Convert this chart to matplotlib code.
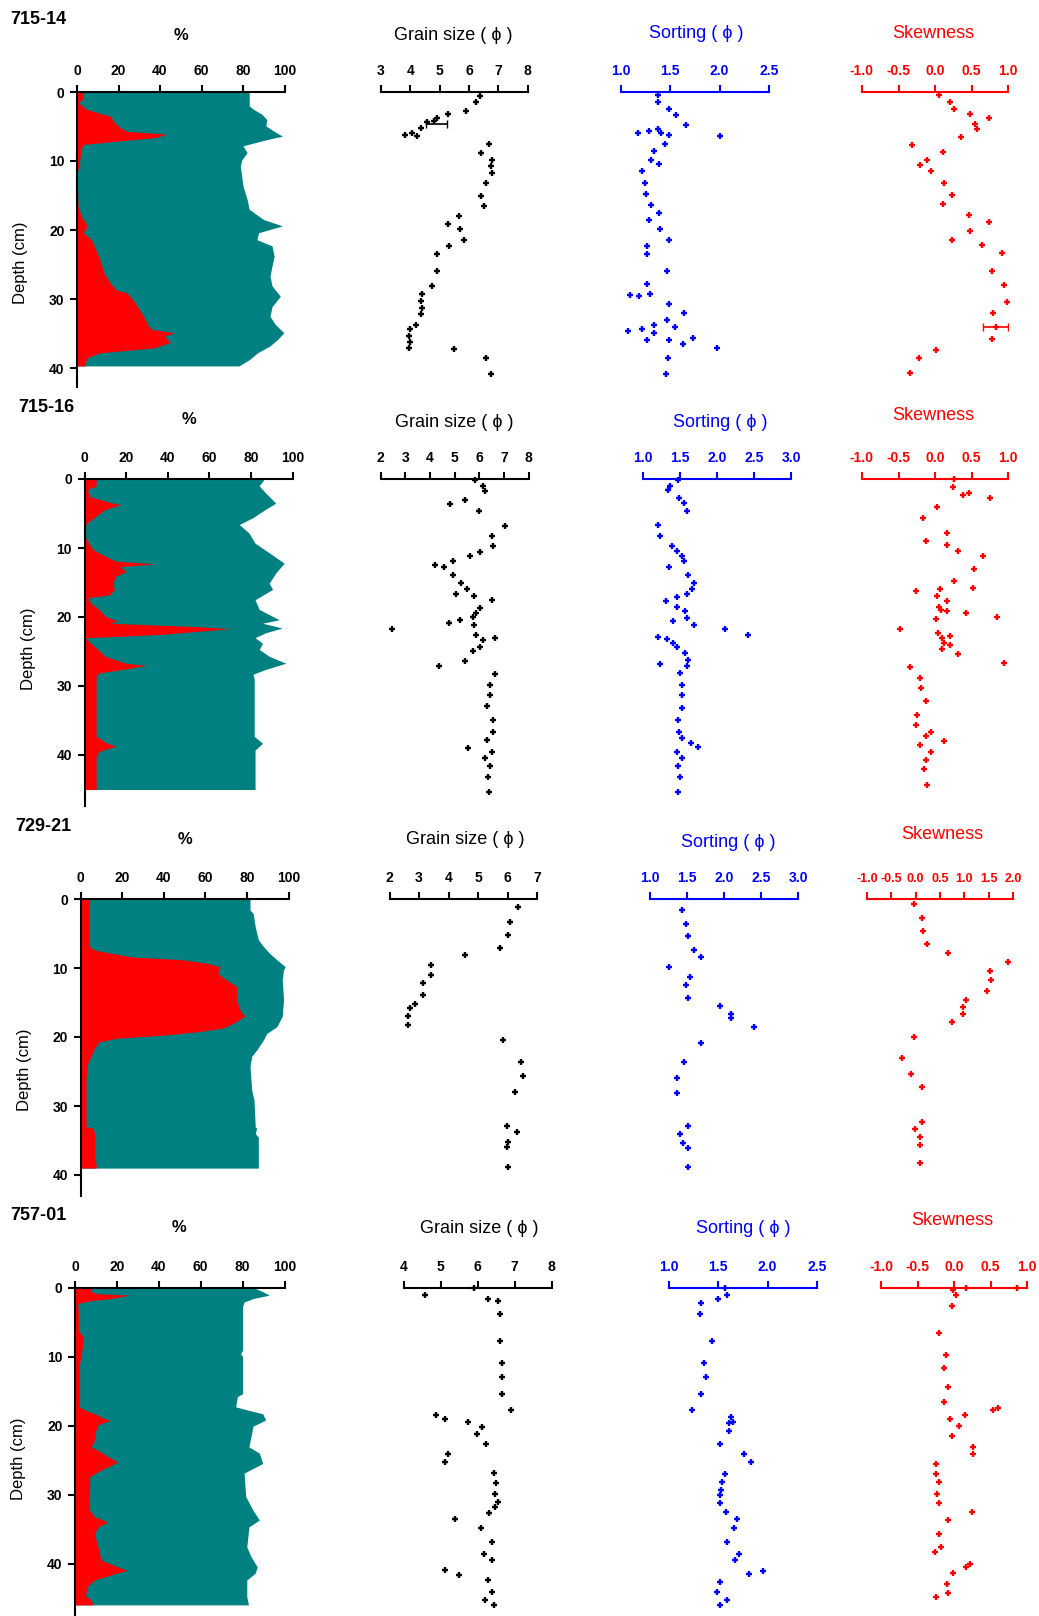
"""
Sediment core profiles: sand/silt percentages plus grain size, sorting and skewness with depth
"""
import matplotlib
matplotlib.use("Agg")
import matplotlib.pyplot as plt

# ---------------- data ----------------
core_names = ["715-14", "715-16", "729-21", "757-01"]

# core 715-14
sand_depth_1 = [0, 1, 1.5, 2.5, 3.5, 4.4, 5.2, 5.7, 6.1, 6.6, 7.1, 7.6, 8.3, 9.9, 11.2, 11.7, 16.5, 18, 19.4, 20.4,
                21.4, 22.8, 24.3, 26.2, 27.7, 28.7, 29.1, 30.1, 31.5, 33, 33.7, 34.4, 34.9, 35.4, 36.3, 37.1, 37.8,
                38.5, 39.2, 39.7]
sand_1 = [3, 3, 0.5, 4.5, 16, 18, 21, 24, 43, 38, 20, 3, 2, 1.3, 0.5, 0, 0.5, 2, 5, 3,
          7, 9, 11, 13, 16, 19, 24, 27, 30, 33, 34, 36, 47, 42, 45, 37, 11, 5, 4, 4]
total_depth_1 = [0, 2, 2.5, 3.2, 4, 4.9, 5.7, 6.4, 6.9, 7.8, 8.8, 9.8, 10.7, 13.6, 15.6, 17, 18.5, 19.4, 20.4, 21.4,
                 22.3, 23.8, 25.2, 26.7, 28.1, 29.6, 31.1, 32.5, 33.7, 34.9, 35.9, 36.8, 37.8, 38.8, 39.7]
total_1 = [83, 83, 85, 89, 91.5, 91, 95, 99, 91.5, 80, 82, 79.5, 78.7, 80, 82, 83, 90, 99, 87.5, 86.7,
           94, 95, 94, 93, 94, 98, 94, 93, 95.6, 99.7, 96.5, 93, 87, 83, 78]
grain_depth_1 = [0.6, 1.5, 2.75, 3.2, 3.7, 4.2, 4.4, 5.2, 5.9, 6.3, 6.4, 7.6, 8.8, 9.8, 10.7, 11.7, 13.2, 15.1, 16.5,
                 18, 19.2, 19.9, 21.4, 22.3, 23.5, 25.9, 28.1, 29.3, 30.3, 31.3, 32.2, 33.7, 34.4, 35.4, 36.3, 37.1,
                 37.3, 38.5, 40.9]
grain_1 = [6.38, 6.23, 5.89, 5.28, 4.92, 4.80, 4.58, 4.35, 4.06, 3.83, 4.23, 6.69, 6.40, 6.80, 6.74, 6.80, 6.57, 6.40,
           6.52, 5.66, 5.28, 5.69, 5.83, 5.32, 4.92, 4.92, 4.75, 4.40, 4.35, 4.40, 4.35, 4.18, 4.00, 3.95, 4.00, 3.95,
           5.49, 6.57, 6.74]
sort_depth_1 = [0.4, 1.4, 2.4, 3.3, 4.8, 5.7, 5.9, 5.3, 6.0, 6.2, 6.4, 7.5, 8.6, 9.8, 10.4, 11.4, 13.2, 14.8, 16.4,
                17.6, 18.6, 19.9, 21.4, 22.3, 23.5, 25.9, 27.8, 29.4, 29.6, 29.3, 30.7, 32.1, 33.1, 34.1, 34.6, 34.3,
                33.8, 34.9, 35.9, 36.0, 36.5, 35.7, 37.1, 38.6, 40.8]
sort_1 = [1.38, 1.38, 1.49, 1.56, 1.66, 1.29, 1.18, 1.38, 1.41, 1.49, 2.0, 1.45, 1.34, 1.31, 1.39, 1.22, 1.25, 1.26,
          1.31, 1.39, 1.29, 1.40, 1.49, 1.27, 1.27, 1.47, 1.27, 1.10, 1.19, 1.30, 1.49, 1.64, 1.47, 1.55, 1.08, 1.22,
          1.34, 1.34, 1.27, 1.49, 1.63, 1.73, 1.97, 1.48, 1.46]
skew_depth_1 = [0.4, 1.4, 2.5, 3.2, 3.8, 4.6, 5.3, 6.5, 7.7, 8.7, 9.8, 10.6, 11.5, 13.2, 14.9, 16.2, 17.8, 18.9, 20.1,
                21.4, 22.2, 23.4, 25.9, 28.0, 30.5, 32.1, 34.0, 35.8, 37.4, 38.6, 40.7]
skew_1 = [0.05, 0.21, 0.26, 0.48, 0.74, 0.55, 0.58, 0.35, -0.32, 0.11, -0.11, -0.21, -0.06, 0.13, 0.23, 0.11, 0.46,
          0.74, 0.48, 0.23, 0.64, 0.92, 0.78, 0.94, 0.98, 0.80, 0.83, 0.78, 0.01, -0.22, -0.34]
grain_err_1 = [4.9, 4.7, 0.35]   # value, depth, half width
skew_err_1 = [0.83, 34.0, 0.17]

# core 715-16
sand_depth_2 = [0, 1, 1.5, 2.5, 3.5, 3.7, 4.4, 5.4, 6.4, 6.9, 8.3, 8.8, 10.2, 11.2, 11.9, 12.3, 12.7, 13.4, 14.1,
                15.1, 16, 16.8, 17.2, 18, 18.9, 19.9, 20.6, 20.9, 21.4, 21.7, 22.1, 22.5, 22.8, 23, 23.8, 24.7, 25.7,
                26.7, 27, 27.6, 28.1, 28.6, 37.3, 38.3, 38.7, 39.5, 40.2, 45]
sand_2 = [5.6, 5.6, 1.6, 2, 13.6, 17.6, 10, 5.6, 1, 0.5, 0.5, 1, 4, 10, 15, 34, 17, 20, 15, 13.6,
          14.4, 12, 1.6, 3, 7, 10, 16, 12, 55, 70, 53.6, 37.6, 17, 0.5, 3, 6.4, 10, 20, 29.6, 18.4,
          7, 5.6, 5.6, 11, 15, 7, 5.6, 5.6]
total_depth_2 = [0, 1, 2, 3.5, 4.4, 5.6, 6.6, 7.8, 9.3, 10.7, 12.2, 13.6, 15.1, 16, 17.5, 18.9, 20.4, 20.9, 21.6,
                 22.3, 23, 23.8, 24.7, 25.7, 26.7, 27.6, 28.3, 29, 37.3, 38.3, 39.3, 40, 45]
total_2 = [86.4, 84, 87, 92, 87, 81, 74.4, 79, 82, 88.8, 96, 92, 88.8, 90.4, 82, 84, 93.6, 85.6, 95, 87,
           82, 85.6, 84, 88.8, 96.8, 87, 81, 81.6, 81.6, 85.6, 82, 82, 82]
grain_depth_2 = [0.2, 1.0, 1.8, 3.6, 3.0, 4.7, 6.8, 8.3, 9.7, 10.6, 11.1, 12.4, 12.8, 11.9, 13.9, 15.1, 15.9, 16.6,
                 16.9, 17.5, 18.7, 19.4, 20.0, 20.8, 20.4, 21.1, 21.8, 22.6, 23.3, 23.0, 24.3, 25.0, 26.4, 27.1,
                 28.3, 29.8, 31.3, 32.9, 34.9, 36.6, 37.8, 39.5, 39.0, 40.4, 41.6, 43.2, 45.3]
grain_2 = [5.82, 6.16, 6.23, 4.81, 5.42, 6.0, 7.04, 6.54, 6.57, 6.05, 5.62, 4.2, 4.57, 4.95, 4.95, 5.28, 5.51, 5.05,
           5.8, 6.54, 6.03, 5.89, 5.76, 4.78, 5.24, 5.78, 2.45, 5.89, 6.16, 6.64, 6.03, 5.76, 5.42, 4.38, 6.64, 6.43,
           6.43, 6.3, 6.57, 6.57, 6.3, 6.5, 5.55, 6.23, 6.43, 6.36, 6.4]
sort_depth_2 = [0.2, 1.0, 1.6, 2.75, 3.5, 4.7, 6.6, 8.3, 9.7, 10.5, 11.1, 11.9, 12.7, 13.9, 15.1, 15.9, 16.6, 17.7,
                17.1, 18.5, 19.2, 20.1, 20.6, 21.1, 21.8, 22.6, 22.9, 23.2, 23.7, 24.3, 25.2, 26.2, 27.1, 26.8, 28.1,
                29.8, 31.3, 33.2, 34.9, 36.6, 37.5, 38.3, 38.8, 39.5, 40.4, 41.6, 43.2, 45.3]
sort_2 = [1.47, 1.37, 1.34, 1.48, 1.55, 1.59, 1.2, 1.23, 1.39, 1.46, 1.52, 1.55, 1.35, 1.6, 1.69, 1.66, 1.59, 1.31,
          1.46, 1.46, 1.57, 1.59, 1.41, 1.69, 2.11, 2.42, 1.2, 1.32, 1.41, 1.46, 1.57, 1.6, 1.59, 1.23, 1.5, 1.52,
          1.52, 1.52, 1.47, 1.48, 1.52, 1.64, 1.74, 1.46, 1.52, 1.47, 1.5, 1.47]
skew_depth_2 = [0.0, 1.1, 2.3, 2.0, 2.75, 4.0, 5.7, 7.8, 9.0, 9.5, 10.5, 11.1, 13.1, 14.8, 15.8, 16.3, 16.0, 17.0,
                17.7, 18.5, 19.0, 19.2, 19.4, 20.0, 20.3, 21.7, 22.3, 23.0, 22.7, 23.8, 24.0, 24.7, 25.4, 26.6, 27.3,
                28.8, 30.3, 32.2, 34.2, 35.6, 36.6, 37.3, 38.0, 38.6, 39.5, 40.7, 42.1, 44.4]
skew_2 = [0.26, 0.25, 0.38, 0.46, 0.76, 0.03, -0.16, 0.16, -0.12, 0.16, 0.32, 0.66, 0.54, 0.26, 0.52, -0.26, 0.07,
          0.03, 0.16, 0.05, 0.08, 0.16, 0.42, 0.85, 0.02, -0.48, 0.04, 0.10, 0.20, 0.13, 0.21, 0.10, 0.31, 0.94,
          -0.34, -0.20, -0.19, -0.12, -0.25, -0.26, -0.06, -0.12, 0.13, -0.21, -0.06, -0.13, -0.15, -0.11]

# core 729-21
sand_depth_3 = [0, 6.9, 7.4, 7.9, 8.4, 8.8, 9.3, 9.8, 10.8, 11.7, 12.7, 14.6, 16.1, 17, 18, 18.7, 19.2, 19.7, 20.2,
                20.7, 21.6, 22.8, 23.8, 25.7, 33, 33.2, 34, 37.8, 38.3, 39]
sand_3 = [4.3, 4.3, 6.8, 15.6, 25, 49, 60.6, 67, 66, 70, 75, 75, 76.7, 79, 73.5, 68.6, 57.4, 41, 17, 9,
          6.8, 5, 3.5, 2.7, 2.7, 6, 6.8, 6.8, 7.5, 7.5]
total_depth_3 = [0, 1.6, 2.1, 4, 5.9, 6.9, 7.9, 8.8, 9.8, 10.3, 11.7, 14.6, 17, 18.5, 19.5, 20.4, 21.9, 22.8, 24.3,
                 27.7, 29.1, 33, 33.2, 34, 34.5, 39]
total_3 = [81.5, 81.5, 83, 84, 85.5, 88, 91, 94.4, 98.4, 97.6, 97, 97.6, 97, 94.4, 89.5, 88, 84.7, 82.3, 81.5,
           82.3, 83.4, 84, 84.7, 84, 85.5, 85.5]
grain_depth_3 = [1.2, 3.4, 5.2, 7.1, 8.1, 9.6, 11.0, 12.2, 13.9, 15.2, 15.8, 17.0, 18.3, 20.5, 23.6, 25.7, 27.9, 32.9,
                 33.8, 35.2, 36.0, 38.9]
grain_3 = [6.37, 6.07, 6.0, 5.73, 4.57, 3.42, 3.42, 3.15, 3.15, 2.88, 2.7, 2.63, 2.63, 5.85, 6.45, 6.52, 6.27, 5.97,
           6.33, 6.03, 5.97, 6.0]
sort_depth_3 = [1.6, 3.6, 5.4, 7.4, 8.4, 9.8, 11.3, 12.5, 14.3, 15.5, 16.6, 17.3, 18.5, 20.8, 23.6, 26.0, 28.1, 32.9,
                34.0, 35.3, 36.1, 38.9]
sort_3 = [1.43, 1.49, 1.51, 1.60, 1.69, 1.25, 1.54, 1.49, 1.52, 1.95, 2.10, 2.10, 2.40, 1.69, 1.46, 1.36, 1.36, 1.52,
          1.40, 1.45, 1.52, 1.52]
skew_depth_3 = [0.7, 2.8, 4.7, 6.5, 7.8, 9.1, 10.5, 11.7, 13.4, 14.6, 15.6, 16.6, 17.8, 20.0, 23.0, 25.4, 27.3, 32.3,
                33.4, 34.5, 35.7, 38.3]
skew_3 = [-0.04, 0.13, 0.15, 0.24, 0.67, 1.89, 1.53, 1.54, 1.47, 1.04, 0.98, 0.98, 0.74, -0.04, -0.29, -0.10, 0.13,
          0.13, -0.01, 0.08, 0.08, 0.08]

# core 757-01
sand_depth_4 = [0, 0.6, 0.9, 1.1, 1.6, 1.9, 2.3, 3.8, 6.2, 7.1, 8.1, 9.6, 11.5, 17.3, 17.8, 18.5, 19, 19.2, 19.9,
                20.7, 22.1, 23.1, 23.6, 24.5, 25.3, 26, 26.7, 27.4, 29.8, 30.8, 32.3, 33.2, 34, 34.7, 35.7, 37.6,
                39.5, 40.5, 41, 41.4, 42.4, 43.3, 44.6, 45.3, 46]
sand_4 = [7.7, 7.7, 11, 26, 17, 7.7, 1.3, 1.6, 1.6, 3.7, 4, 2.9, 2, 2, 5, 11, 14, 17, 11, 10,
          9.3, 7.7, 11, 15.7, 20.5, 15.7, 11, 7, 7, 6.5, 7, 9.3, 15.7, 11, 9.3, 11, 12.5, 20.5, 25, 20,
          9.3, 6, 5, 7.7, 8.5]
total_depth_4 = [0, 0.6, 1.1, 1.6, 2.1, 2.8, 9.1, 9.6, 10, 15.4, 15.8, 17.3, 17.8, 18.3, 19.2, 20.1, 21.6, 23.1, 24,
                 25.5, 26.9, 30.3, 32.3, 33.7, 34.7, 37.6, 39, 40.5, 41.4, 42.4, 44.8, 46]
total_4 = [85, 89.6, 92.8, 85, 80.7, 80, 80, 79, 80, 80, 77.5, 76.7, 83, 89.6, 91, 85, 84, 83, 88, 89.6,
           80.7, 81.5, 85, 88, 83, 82, 84, 87, 86, 82, 82, 82.8]
grain_depth_4 = [0.1, 1.1, 1.6, 1.9, 3.8, 7.7, 11.0, 12.9, 15.4, 17.7, 18.5, 19.1, 19.5, 20.2, 21.2, 22.7, 24.2,
                 25.3, 26.9, 28.4, 29.9, 31.1, 31.8, 32.7, 33.6, 34.8, 36.9, 38.6, 39.5, 41.0, 41.7, 42.4, 44.1,
                 45.3, 46.0]
grain_4 = [5.91, 4.57, 6.27, 6.56, 6.61, 6.61, 6.67, 6.67, 6.67, 6.90, 4.87, 5.1, 5.73, 6.11, 5.98, 6.22, 5.2, 5.1,
           6.45, 6.49, 6.47, 6.54, 6.47, 6.31, 5.38, 6.09, 6.38, 6.18, 6.38, 5.12, 5.48, 6.27, 6.38, 6.2, 6.45]
sort_depth_4 = [0.1, 1.1, 1.6, 2.2, 3.8, 7.7, 11.0, 12.9, 15.4, 17.7, 18.7, 19.7, 19.5, 20.8, 22.7, 24.2, 25.3, 27.0,
                28.2, 29.4, 30.1, 31.3, 32.5, 33.6, 34.8, 36.9, 38.6, 39.5, 41.5, 41.1, 42.7, 44.1, 45.3, 46.0]
sort_4 = [1.57, 1.59, 1.50, 1.32, 1.31, 1.44, 1.35, 1.37, 1.32, 1.23, 1.63, 1.61, 1.65, 1.61, 1.52, 1.76, 1.83, 1.57,
          1.54, 1.53, 1.52, 1.52, 1.58, 1.69, 1.66, 1.59, 1.71, 1.67, 1.81, 1.95, 1.52, 1.49, 1.59, 1.52]
skew_depth_4 = [0.1, 0.0, 0.4, 1.1, 2.7, 6.6, 9.8, 11.7, 14.4, 16.6, 17.8, 17.4, 18.5, 19.1, 20.1, 21.5, 23.1, 24.2,
                25.6, 27.0, 28.2, 29.9, 31.2, 32.5, 33.7, 35.7, 38.3, 37.6, 40.0, 40.5, 41.4, 42.9, 44.3, 44.9]
skew_4 = [0.16, 0.86, -0.01, 0.03, -0.03, -0.20, -0.11, -0.14, -0.08, -0.14, 0.54, 0.60, 0.15, -0.05, 0.07, -0.03,
          0.26, 0.26, -0.25, -0.24, -0.20, -0.23, -0.20, 0.25, -0.08, -0.20, -0.26, -0.18, 0.22, 0.17, -0.02, -0.10,
          -0.08, -0.25]

sand_depths = [sand_depth_1, sand_depth_2, sand_depth_3, sand_depth_4]
sands = [sand_1, sand_2, sand_3, sand_4]
total_depths = [total_depth_1, total_depth_2, total_depth_3, total_depth_4]
totals = [total_1, total_2, total_3, total_4]
grain_depths = [grain_depth_1, grain_depth_2, grain_depth_3, grain_depth_4]
grains = [grain_1, grain_2, grain_3, grain_4]
sort_depths = [sort_depth_1, sort_depth_2, sort_depth_3, sort_depth_4]
sorts = [sort_1, sort_2, sort_3, sort_4]
skew_depths = [skew_depth_1, skew_depth_2, skew_depth_3, skew_depth_4]
skews = [skew_1, skew_2, skew_3, skew_4]

grain_ticks = [[3, 4, 5, 6, 7, 8], [2, 3, 4, 5, 6, 7, 8], [2, 3, 4, 5, 6, 7], [4, 5, 6, 7, 8]]
sort_ticks = [[1.0, 1.5, 2.0, 2.5], [1.0, 1.5, 2.0, 2.5, 3.0], [1.0, 1.5, 2.0, 2.5, 3.0], [1.0, 1.5, 2.0, 2.5]]
skew_ticks = [[-1.0, -0.5, 0.0, 0.5, 1.0], [-1.0, -0.5, 0.0, 0.5, 1.0],
              [-1.0, -0.5, 0.0, 0.5, 1.0, 1.5, 2.0], [-1.0, -0.5, 0.0, 0.5, 1.0]]

# ---------------- layout (pixels) ----------------
W, H = 1039, 1616
PX_PER_CM = 6.9
DEPTH0_Y = [92, 479, 899, 1287.5]
DEPTH_MAX = [42.8, 47.4, 43.0, 47.6]
AREA_X = [(77, 284.5), (84.5, 292.5), (80.5, 288.5), (75, 284.5)]
GRAIN_X = [(381, 527.5), (380.5, 528.5), (389.5, 537), (404, 551.5)]
SORT_X = [(620.5, 769), (643, 791.5), (650, 798), (669, 817)]
SKEW_X = [(862, 1008), (862, 1008), (867, 1013), (881, 1027)]
NAME_XY = [(10.5, 20), (18.5, 407), (15.5, 827), (10.3, 1216)]
PCT_XY = [(181, 35), (188.6, 419.5), (184.5, 840), (179.4, 1228)]
GRAIN_TITLE_XY = [(453, 36), (454.6, 422.6), (465, 840), (479.3, 1228.7)]
SORT_TITLE_XY = [(696, 34), (720, 422.6), (728, 843), (743, 1228.7)]
SKEW_TITLE_XY = [(933, 34), (933, 415.4), (942, 835), (952.5, 1220.5)]
DEPTH_LABEL_XY = [(21, 263), (28, 649), (25, 1070), (18.5, 1458.6)]

TEAL = "#008080"
RED = "#ff0000"
BLUE = "#0000ff"

plt.rcParams["font.family"] = ["Liberation Sans", "DejaVu Sans"]
plt.rcParams["axes.unicode_minus"] = False

fig = plt.figure(figsize=(W / 100, H / 100), dpi=100)


def px_axes(left, right, top, bottom):
    """ add an axes given pixel edges """
    return fig.add_axes([left / W, 1 - bottom / H, (right - left) / W, (bottom - top) / H])


def px_text(x, y, s, **kwargs):
    """ put a text at a pixel position """
    return fig.text(x / W, 1 - y / H, s, **kwargs)


def style_top_axis(ax, color, ticks, labels, labelsize=10):
    """ only the top spine with ticks pointing up """
    for side in ["bottom", "right", "left"]:
        ax.spines[side].set_visible(False)
    ax.spines["top"].set_color(color)
    ax.spines["top"].set_linewidth(1.5)
    ax.xaxis.tick_top()
    ax.set_xticks(ticks)
    ax.set_xticklabels(labels, fontweight="bold", fontsize=labelsize)
    ax.tick_params(axis="x", colors=color, direction="out", length=5, width=1.5, pad=5)
    ax.set_yticks([])
    ax.patch.set_alpha(0)


def scatter_panel(ax, values, depths, color):
    ax.plot(values, depths, ls="none", marker="+", ms=5, mew=1.7, color=color, clip_on=False)


for i in range(4):
    top = DEPTH0_Y[i]
    bottom = top + DEPTH_MAX[i] * PX_PER_CM

    # ---- sand / silt percentage panel ----
    ax = px_axes(AREA_X[i][0], AREA_X[i][1], top, bottom)
    ax.fill_betweenx(total_depths[i], 0, totals[i], color=TEAL, lw=0)
    ax.fill_betweenx(sand_depths[i], 0, sands[i], color=RED, lw=0)
    ax.set_xlim(0, 100)
    ax.set_ylim(DEPTH_MAX[i], 0)
    style_top_axis(ax, "black", [0, 20, 40, 60, 80, 100], ["0", "20", "40", "60", "80", "100"])
    ax.spines["left"].set_visible(True)
    ax.spines["left"].set_linewidth(1.5)
    ax.set_yticks([0, 10, 20, 30, 40])
    ax.set_yticklabels(["0", "10", "20", "30", "40"], fontweight="bold", fontsize=10)
    ax.tick_params(axis="y", direction="out", length=5, width=1.5, pad=4)

    # ---- grain size ----
    ax = px_axes(GRAIN_X[i][0], GRAIN_X[i][1], top, bottom)
    scatter_panel(ax, grains[i], grain_depths[i], "black")
    ax.set_xlim(grain_ticks[i][0], grain_ticks[i][-1])
    ax.set_ylim(DEPTH_MAX[i], 0)
    style_top_axis(ax, "black", grain_ticks[i], [str(t) for t in grain_ticks[i]])
    if i == 0:
        ax.errorbar([grain_err_1[0]], [grain_err_1[1]], xerr=[grain_err_1[2]], fmt="none",
                    ecolor="black", elinewidth=1.2, capsize=3)

    # ---- sorting ----
    ax = px_axes(SORT_X[i][0], SORT_X[i][1], top, bottom)
    scatter_panel(ax, sorts[i], sort_depths[i], BLUE)
    ax.set_xlim(sort_ticks[i][0], sort_ticks[i][-1])
    ax.set_ylim(DEPTH_MAX[i], 0)
    style_top_axis(ax, BLUE, sort_ticks[i], [f"{t:.1f}" for t in sort_ticks[i]])

    # ---- skewness ----
    ax = px_axes(SKEW_X[i][0], SKEW_X[i][1], top, bottom)
    scatter_panel(ax, skews[i], skew_depths[i], RED)
    ax.set_xlim(skew_ticks[i][0], skew_ticks[i][-1])
    ax.set_ylim(DEPTH_MAX[i], 0)
    style_top_axis(ax, RED, skew_ticks[i], [f"{t:.1f}" for t in skew_ticks[i]],
                   labelsize=9 if len(skew_ticks[i]) > 5 else 10)
    if i == 0:
        ax.errorbar([skew_err_1[0]], [skew_err_1[1]], xerr=[skew_err_1[2]], fmt="none",
                    ecolor=RED, elinewidth=1.2, capsize=3)

    # ---- texts ----
    px_text(NAME_XY[i][0], NAME_XY[i][1], core_names[i], fontsize=13, fontweight="bold",
            ha="left", va="center")
    px_text(PCT_XY[i][0], PCT_XY[i][1], "%", fontsize=12, fontweight="bold", ha="center", va="center")
    px_text(GRAIN_TITLE_XY[i][0], GRAIN_TITLE_XY[i][1], "Grain size ( \u03d5 )", fontsize=13,
            ha="center", va="center", color="black")
    px_text(SORT_TITLE_XY[i][0], SORT_TITLE_XY[i][1], "Sorting ( \u03d5 )", fontsize=13,
            ha="center", va="center", color=BLUE)
    px_text(SKEW_TITLE_XY[i][0], SKEW_TITLE_XY[i][1], "Skewness", fontsize=13,
            ha="center", va="center", color=RED)
    px_text(DEPTH_LABEL_XY[i][0], DEPTH_LABEL_XY[i][1], "Depth (cm)", fontsize=12,
            rotation=90, ha="center", va="center")

fig.savefig("out.png", dpi=100)
